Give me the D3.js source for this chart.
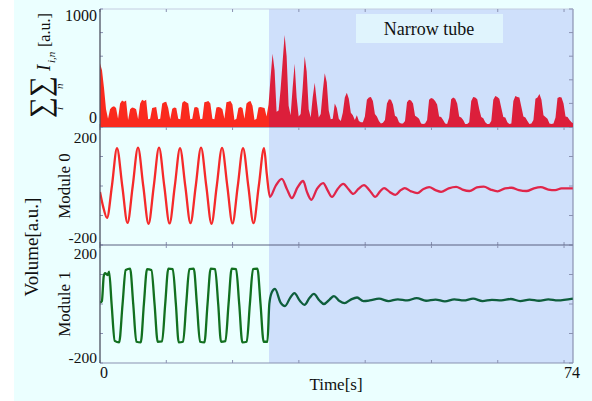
<!DOCTYPE html>
<html>
<head>
<meta charset="utf-8">
<script src="https://cdn.jsdelivr.net/npm/d3@7"></script>
<style>
  body { margin: 0; background: #fff; }
  text { font-family: "Liberation Serif", "DejaVu Serif", serif; fill: #111; }
</style>
</head>
<body>
<svg id="chart" width="592" height="401"></svg>
<script>
    // summed intensity, one sample every topStep seconds
    var topStep = 0.32;
    var topValues = [
      540, 480, 330, 150, 70,
      150, 170, 175, 160, 70,
      200, 225, 215, 225, 60,
      150, 165, 160, 150, 65,
      200, 230, 220, 230, 65,
      70, 160, 165, 170, 65,
      70, 200, 210, 215, 160,
      65, 155, 165, 160, 70,
      65, 205, 220, 210, 200,
      65, 70, 165, 170, 160,
      65, 70, 210, 215, 220, 200, 70,
      65, 165, 170, 165, 150,
      70, 210, 215, 220, 190,
      60, 70, 160, 170, 160,
      70, 200, 215, 220, 180,
      60, 70, 165, 170, 165, 160, 90, 190,
      420, 620, 480, 130, 140, 320, 550, 780, 600, 180,
      100, 330, 535, 250, 90, 110, 330, 600, 470, 150,
      80, 250, 375, 220, 80, 110, 300, 455, 380, 140,
      65, 70, 200, 160, 70, 50, 120, 250, 290, 240,
      120, 100, 60, 100, 50, 40, 40, 90, 230, 250,
      255, 220, 110, 90, 50, 30, 35, 60, 200, 235,
      230, 190, 95, 85, 40, 30, 30, 50,
      210, 230, 225, 200, 95, 85, 70, 30, 25, 30, 60,
      230, 245, 240, 220, 190, 90, 85, 60, 30, 25,
      80, 235, 250, 240, 200, 90, 80, 60, 25, 25, 40,
      220, 255, 250, 235, 150, 85, 75, 40, 25, 25, 50,
      230, 262, 255, 240, 160, 85, 80, 40, 25, 30,
      220, 262, 255, 250, 170, 90, 80, 50, 25, 30, 60,
      240, 250, 280, 230, 100, 85, 70, 30, 25, 30, 80,
      245, 255, 250, 200, 90, 85, 60, 40, 30
    ];

    var m0Time = [0, 0.5, 1.12, 1.9, 2.71, 3.55, 4.39, 5.22, 6.06, 6.9, 7.74, 8.58, 9.41, 10.25,
      11.09, 11.93, 12.76, 13.6, 14.43, 15.27, 16.11, 16.95, 17.78, 18.62, 19.46, 20.3, 21.13,
      21.97, 22.81, 23.65, 24.48, 25.32, 26.16, 26.6, 27.1, 28.0, 29.0, 29.8, 30.6, 31.5, 32.4,
      33.0, 33.7, 34.6, 35.6, 36.3, 37.0, 37.9, 38.8, 39.6, 40.4, 41.2, 42.1, 43.0, 43.9, 44.6,
      45.3, 46.2, 47.1, 47.9, 48.6, 49.6, 50.6, 51.6, 52.5, 53.5, 54.4, 55.6, 56.8, 57.8, 58.9,
      60.1, 61.2, 62.3, 63.4, 64.6, 65.6, 66.8, 68.0, 69.2, 70.3, 71.5, 72.6, 73.6, 75.4];
    var m0Value = [-20, -70, -108, 0, 128, 0, -125, 0, 130, 0, -128, 0, 130, 0,
      -127, 0, 128, 0, -126, 0, 130, 0, -128, 0, 129, 0, -127,
      0, 128, 0, -126, 0, 128, 40, -37, 0, 24, -10, -41, -5, 17,
      -20, -47, -10, 10, -15, -37, -10, 7, -10, -27, -10, 3, -15, -37, -20,
      -7, -20, -30, -15, -7, -18, -24, -10, -4, -14, -20, -8, -3, -12, -17,
      -5, -2, -12, -18, -8, -6, -14, -17, -8, -4, -12, -14, -8, -8];

    var m1Time = [0, 0.3, 0.6, 0.8, 1.2, 1.45, 1.85, 2.35, 3.05, 3.6, 4.1, 4.8, 5.3, 5.8, 6.5,
      7.0, 7.5, 8.2, 8.7, 9.2, 9.9, 10.4, 10.9, 11.6, 12.1, 12.55, 13.25, 13.75, 14.25, 14.95,
      15.45, 15.95, 16.65, 17.15, 17.65, 18.35, 18.85, 19.3, 20.0, 20.5, 21.0, 21.7, 22.2, 22.7,
      23.4, 23.9, 24.4, 25.1, 25.6, 26.1, 26.7, 27.0, 27.4, 27.9, 28.8, 29.5, 30.3, 31.0, 31.9,
      32.6, 33.4, 34.1, 35.0, 35.7, 36.6, 37.3, 38.2, 39.0, 40.0, 41.0, 42.0, 43.0, 44.5, 46.0,
      47.5, 49.0, 50.5, 52.0, 53.5, 55.0, 56.5, 58.0, 59.5, 61.0, 62.5, 64.0, 65.5, 67.0, 68.5,
      70.0, 71.5, 73.0, 75.4];
    var m1Value = [5, 10, 95, 105, 98, 110, 0, -125, -130, 0, 115, 120, 0, -128, -130,
      0, 118, 115, 0, -128, -127, 0, 120, 118, 0, -130, -128, 0, 118, 120,
      0, -128, -130, 0, 120, 118, 0, -128, -126, 0, 120, 118, 0, -130,
      -128, 0, 118, 120, 0, -128, -128, 0, 40, 51, 5, -7, 20, 37, 10,
      -3, 20, 34, 12, 0, 15, 27, 10, 3, 15, 22, 10, 12, 18, 10,
      16, 12, 20, 11, 15, 9, 16, 12, 18, 10, 14, 12, 17, 10, 15,
      11, 16, 12, 18];

    var xTicks = [0, 10.57, 21.14, 31.71, 42.29, 52.86, 63.43, 74];
    var xLabels = [0, 74];
    var topTicks = [0, 200, 400, 600, 800, 1000];
    var topLabels = [0, 1000];
    var modTicks = [-200, -100, 0, 100, 200];
    var modLabels = [-200, 200];
    var narrowStart = 26.95;
    var xMax = 75.43;

    var svg = d3.select("#chart");
    var width = +svg.attr("width"), height = +svg.attr("height");

    var x = d3.scaleLinear().domain([0, xMax]).range([100, 573]);
    var yTop = d3.scaleLinear().domain([0, 1000]).range([127, 9]);
    var yM0 = d3.scaleLinear().domain([-200, 200]).range([245, 127]);
    var yM1 = d3.scaleLinear().domain([-200, 200]).range([363, 245]);

    svg.append("rect").attr("x", 14).attr("y", 0)
      .attr("width", width - 14).attr("height", height).attr("fill", "#ebffff");

    // narrow tube shading
    svg.append("rect")
      .attr("x", x(narrowStart)).attr("y", yTop(1000))
      .attr("width", x(xMax) - x(narrowStart)).attr("height", yM1(-200) - yTop(1000))
      .attr("fill", "#cfe0fb");

    svg.append("rect").attr("x", 356).attr("y", 14).attr("width", 147).attr("height", 29)
      .attr("fill", "#e0f4fd");
    svg.append("text").attr("x", 429).attr("y", 35).attr("text-anchor", "middle")
      .attr("font-size", 18).text("Narrow tube");

    var frameColor = "#8a92b2";

    // panel frames and ticks
    [yTop, yM0, yM1].forEach(function(y, k) {
      var ticks = k === 0 ? topTicks : modTicks;
      var top = y.range()[1], bottom = y.range()[0];
      var g = svg.append("g");
      g.append("line").attr("x1", x(xMax)).attr("x2", x(xMax)).attr("y1", top).attr("y2", bottom)
        .attr("stroke", frameColor).attr("stroke-width", 1.2);
      g.append("line").attr("x1", 100).attr("x2", x(xMax)).attr("y1", top).attr("y2", top)
        .attr("stroke", k === 0 ? "#c4cde0" : "#5a6080").attr("stroke-width", 1);
      g.selectAll(".yl").data(ticks).enter().append("line")
        .attr("x1", 100).attr("x2", 103)
        .attr("y1", function(d) { return y(d); }).attr("y2", function(d) { return y(d); })
        .attr("stroke", frameColor);
      g.selectAll(".yr").data(ticks).enter().append("line")
        .attr("x1", x(xMax) - 4).attr("x2", x(xMax))
        .attr("y1", function(d) { return y(d); }).attr("y2", function(d) { return y(d); })
        .attr("stroke", frameColor);
      g.selectAll(".xt").data(xTicks).enter().append("line")
        .attr("x1", function(d) { return x(d); }).attr("x2", function(d) { return x(d); })
        .attr("y1", top).attr("y2", top + 3)
        .attr("stroke", frameColor);
      g.selectAll(".xb").data(xTicks).enter().append("line")
        .attr("x1", function(d) { return x(d); }).attr("x2", function(d) { return x(d); })
        .attr("y1", bottom - 3).attr("y2", bottom)
        .attr("stroke", frameColor);
    });
    svg.append("line").attr("x1", 100).attr("x2", x(xMax)).attr("y1", yM1(-200)).attr("y2", yM1(-200))
      .attr("stroke", frameColor).attr("stroke-width", 1.2);

    // clip left / right of the narrow start
    var defs = svg.append("defs");
    defs.append("clipPath").attr("id", "clipL").append("rect")
      .attr("x", x(0)).attr("y", 0).attr("width", x(narrowStart) - x(0)).attr("height", height);
    defs.append("clipPath").attr("id", "clipR").append("rect")
      .attr("x", x(narrowStart)).attr("y", 0).attr("width", x(xMax) - x(narrowStart)).attr("height", height);

    var area = d3.area()
      .x(function(d, i) { return x(i * topStep); })
      .y0(yTop(0))
      .y1(function(d) { return yTop(d); });

    var m0 = m0Time.map(function(t, i) { return [t, m0Value[i]]; });
    var m1 = m1Time.map(function(t, i) { return [t, m1Value[i]]; });

    var line0 = d3.line().curve(d3.curveMonotoneX)
      .x(function(d) { return x(d[0]); }).y(function(d) { return yM0(d[1]); });
    var line1 = d3.line().curve(d3.curveMonotoneX)
      .x(function(d) { return x(d[0]); }).y(function(d) { return yM1(d[1]); });

    [["clipL", "#fa2a1e", "#f52a2a", "#127020"], ["clipR", "#dc1f3b", "#e0264a", "#0e5e3c"]].forEach(function(c) {
      svg.append("path").attr("clip-path", "url(#" + c[0] + ")")
        .attr("d", area(topValues)).attr("fill", c[1]);
      svg.append("path").attr("clip-path", "url(#" + c[0] + ")")
        .attr("d", line0(m0)).attr("fill", "none").attr("stroke", c[2]).attr("stroke-width", 2.3);
      svg.append("path").attr("clip-path", "url(#" + c[0] + ")")
        .attr("d", line1(m1)).attr("fill", "none").attr("stroke", c[3]).attr("stroke-width", 2.3);
    });

    // left axis line
    svg.append("line").attr("x1", 100).attr("x2", 100).attr("y1", yTop(1000)).attr("y2", yM1(-200))
      .attr("stroke", "#4d5060").attr("stroke-width", 1.3);

    // tick labels
    svg.selectAll(".tl").data(topLabels).enter().append("text")
      .attr("x", 97).attr("y", function(d) { return yTop(d) + (d > 0 ? 12 : -4); })
      .attr("text-anchor", "end").attr("font-size", 16).text(function(d) { return d; });
    svg.selectAll(".m0l").data(modLabels).enter().append("text")
      .attr("x", 97).attr("y", function(d) { return yM0(d) + (d > 0 ? 16 : -2); })
      .attr("text-anchor", "end").attr("font-size", 15.5).text(function(d) { return d; });
    svg.selectAll(".m1l").data(modLabels).enter().append("text")
      .attr("x", 97).attr("y", function(d) { return yM1(d) + (d > 0 ? 14 : 0); })
      .attr("text-anchor", "end").attr("font-size", 15.5).text(function(d) { return d; });
    svg.selectAll(".xl").data(xLabels).enter().append("text")
      .attr("x", function(d) { return x(d); }).attr("y", yM1(-200) + 15)
      .attr("text-anchor", "start").attr("font-size", 16).text(function(d) { return d; });

    svg.append("text").attr("x", 336).attr("y", 390).attr("text-anchor", "middle")
      .attr("font-size", 17).text("Time[s]");

    // axis titles
    svg.append("text").attr("transform", "translate(70," + yM0(0) + ") rotate(-90)")
      .attr("text-anchor", "middle").attr("font-size", 17).text("Module 0");
    svg.append("text").attr("transform", "translate(70," + yM1(0) + ") rotate(-90)")
      .attr("text-anchor", "middle").attr("font-size", 17).text("Module 1");
    svg.append("text").attr("transform", "translate(38,247) rotate(-90)")
      .attr("text-anchor", "middle").attr("font-size", 19).text("Volume[a.u.]");

    var sg = svg.append("g").attr("transform", "translate(52,118) rotate(-90)");
    sg.append("text").attr("x", 0).attr("y", -2).attr("font-size", 30)
      .attr("textLength", 42).attr("lengthAdjust", "spacingAndGlyphs").text("\u2211\u2211");
    sg.append("text").attr("x", 8).attr("y", 11).attr("font-size", 11).attr("font-style", "italic").text("i");
    sg.append("text").attr("x", 29).attr("y", 11).attr("font-size", 11).attr("font-style", "italic").text("n");
    sg.append("text").attr("x", 47).attr("y", -2).attr("font-size", 19).attr("font-style", "italic").text("I");
    sg.append("text").attr("x", 55).attr("y", 3).attr("font-size", 11).attr("font-style", "italic").text("i,n");
    sg.append("text").attr("x", 71).attr("y", -2).attr("font-size", 16).text("[a.u.]");
</script>
</body>
</html>
